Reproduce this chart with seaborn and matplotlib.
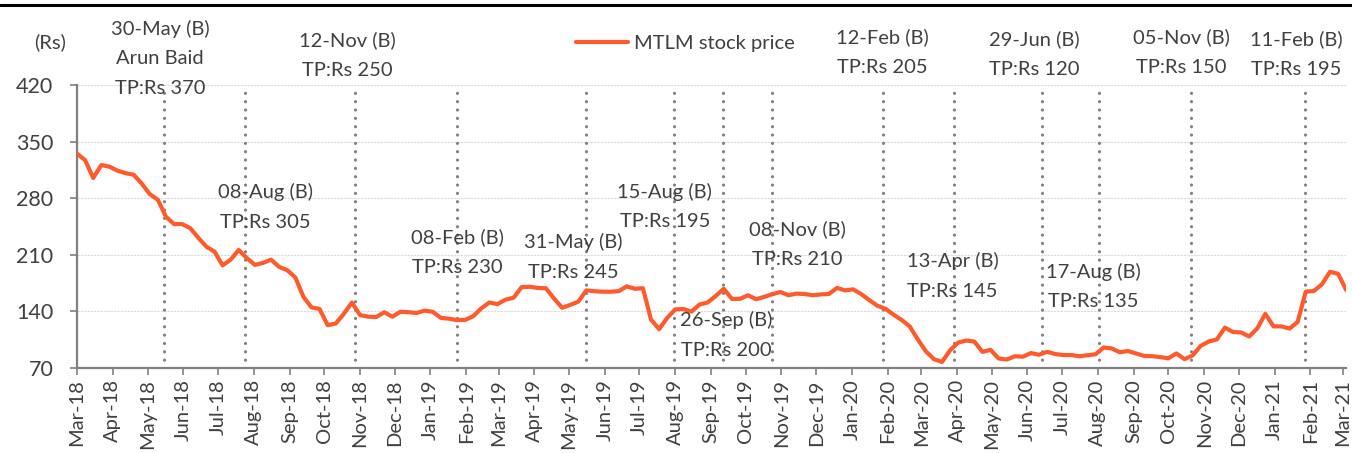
import pandas as pd
import matplotlib.pyplot as plt
import matplotlib.dates as mdates
from matplotlib.lines import Line2D
import seaborn as sns

# weekly MTLM closing price (Rs), starting 16-Mar-2018
start_date = '2018-03-16'
price = [
    335, 327, 305, 321, 319, 314, 311, 309, 298, 285,
    278, 257, 248, 248, 243, 231, 220, 214, 197, 204,
    216, 206, 197.5, 200, 204, 195, 191, 182, 158, 145,
    143, 123, 125, 137, 151, 135.5, 133.5, 133, 139, 133.5,
    139.5, 139, 138, 141, 139.5, 132, 131, 129.3, 129.5, 134,
    143.8, 151, 149, 154.5, 157, 170, 170.5, 169, 168.6, 156,
    144.5, 148, 152, 166, 165, 164.4, 164.4, 165, 171, 168,
    168.6, 130, 118, 132, 142.5, 143, 139.7, 148.5, 151, 159,
    168, 155.5, 155.5, 160, 155, 158, 161.2, 164, 160, 162,
    161.5, 160, 161, 161.5, 169, 166, 167.3, 161.5, 154, 147,
    143.3, 136, 129.5, 121.5, 105.5, 90.7, 81, 77.5, 92, 101.5,
    104, 102.7, 90, 92.5, 81.8, 80.5, 84.5, 84, 88.5, 86.4,
    90, 87.3, 86, 86, 84.6, 85.8, 87, 95.4, 94.2, 89.5,
    91, 88, 85, 84.6, 83.5, 82, 88, 81, 85.5, 97.4,
    102.8, 105.3, 120, 114.5, 114, 109, 119, 137, 121.5, 121.5,
    118.8, 127, 164.5, 165.2, 173.5, 189, 186.5, 166.5,
]

# rating calls (B = Buy) and target prices
event_dates = ['2018-05-30', '2018-08-08', '2018-11-12', '2019-02-08', '2019-05-31',
               '2019-08-15', '2019-09-26', '2019-11-08', '2020-02-12', '2020-04-13',
               '2020-06-29', '2020-08-17', '2020-11-05', '2021-02-11']
event_names = ['30-May (B)\nArun Baid', '08-Aug (B)', '12-Nov (B)', '08-Feb (B)', '31-May (B)',
               '15-Aug (B)', '26-Sep (B)', '08-Nov (B)', '12-Feb (B)', '13-Apr (B)',
               '29-Jun (B)', '17-Aug (B)', '05-Nov (B)', '11-Feb (B)']
target_price = [370, 305, 250, 230, 245, 195, 200, 210, 205, 145, 120, 135, 150, 195]

# where each call's label sits (date, Rs)
label_x = ['2018-05-27', '2018-08-26', '2018-11-05', '2019-02-08', '2019-05-20',
           '2019-08-07', '2019-09-29', '2019-11-30', '2020-02-11', '2020-04-12',
           '2020-06-22', '2020-08-12', '2020-10-27', '2021-02-04']
label_y = [453, 269, 457, 213, 207, 270, 111, 223, 461, 184, 458, 171, 461, 458]

df = pd.DataFrame({
    'date': pd.date_range(start_date, periods=len(price), freq='7D'),
    'price': price,
})

sns.set_style('white')
plt.rcParams['font.family'] = ['Lato', 'DejaVu Sans']

text_col = '#404040'
grey = '#808080'
orange = '#FF5A2C'

fig = plt.figure(figsize=(13.52, 4.53), dpi=100)
ax = fig.add_axes([0.057, 0.1876, 0.9387, 0.6248])

for d in event_dates:
    ax.axvline(pd.Timestamp(d), color=grey, lw=2.3, ls=(0, (0.01, 2.6)),
               dash_capstyle='round', zorder=1)

sns.lineplot(data=df, x='date', y='price', color=orange, lw=3,
             label='MTLM stock price', ax=ax, zorder=3)

for name, tp, lx, ly in zip(event_names, target_price, label_x, label_y):
    ax.text(pd.Timestamp(lx), ly, f'{name}\nTP:Rs {tp}', ha='center', va='center',
            fontsize=14.5, color=text_col, linespacing=1.9, clip_on=False, zorder=4)

ax.set_ylim(70, 420)
ax.set_yticks(range(70, 421, 70))
ax.set_xlim(pd.Timestamp('2018-03-16'), pd.Timestamp('2021-03-19'))
ticks = pd.date_range('2018-03-01', '2021-03-01', freq='MS') + pd.Timedelta(days=15)
ax.set_xticks(ticks)
ax.xaxis.set_major_formatter(mdates.DateFormatter('%b-%y'))
ax.set_xlabel('')
ax.set_ylabel('')

ax.grid(axis='y', color='#d9d9d9', lw=0.8, ls=(0, (2, 1)))
ax.grid(axis='x', visible=False)
for side in ['top', 'right']:
    ax.spines[side].set_visible(False)
for side in ['left', 'bottom']:
    ax.spines[side].set_color(grey)
    ax.spines[side].set_linewidth(1.6)

ax.tick_params(axis='x', rotation=90, labelsize=14.5, colors=text_col,
               length=5, width=1.2, color=grey, pad=3)
ax.tick_params(axis='y', labelsize=15.5, colors=text_col, length=5, width=1.2,
               color=grey, pad=12)
ax.tick_params(bottom=True, left=True)

ax.legend(loc='center', bbox_to_anchor=(0.507, 0.903), bbox_transform=fig.transFigure,
          frameon=False, fontsize=14.5, handlelength=2.6, handletextpad=0.3,
          labelcolor=text_col)

fig.text(0.037, 0.907, '(Rs)', ha='center', va='center', fontsize=14.5, color=text_col)
fig.add_artist(Line2D([0, 1], [0.99, 0.99], transform=fig.transFigure,
                      color='black', lw=2.2))

fig.savefig('out.png', dpi=100)
